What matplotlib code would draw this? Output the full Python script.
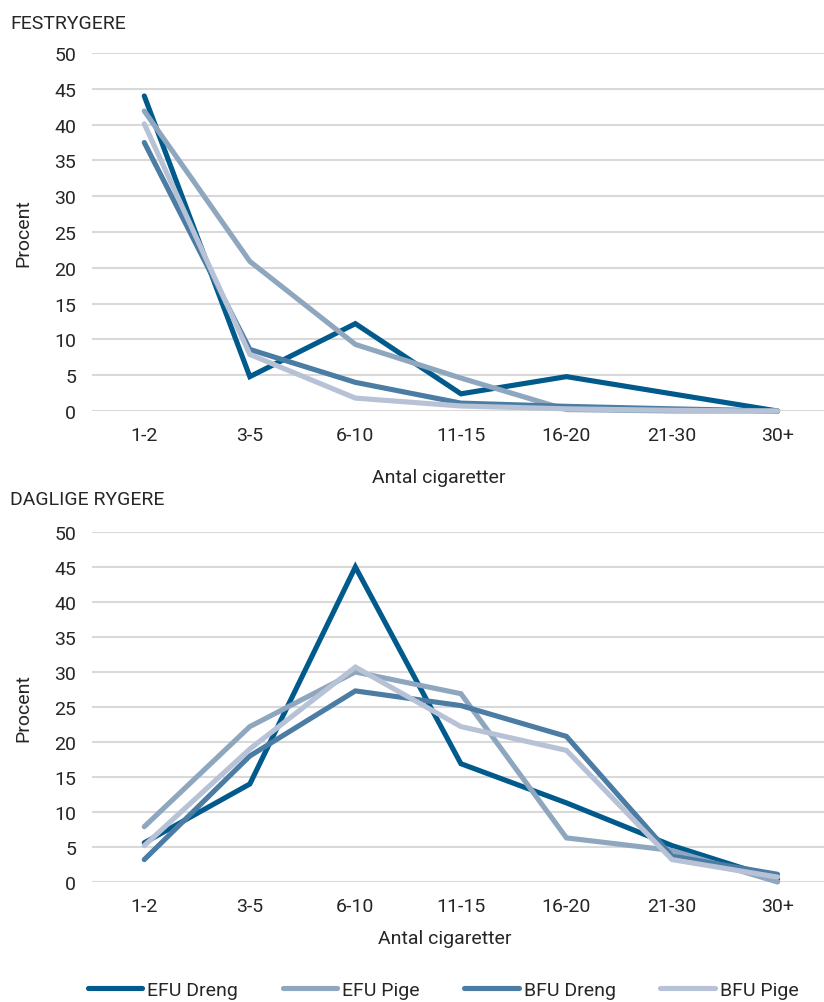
import matplotlib
matplotlib.use("Agg")
import matplotlib.pyplot as plt

plt.rcParams["font.family"] = ["Roboto", "DejaVu Sans"]

categories = ["1-2", "3-5", "6-10", "11-15", "16-20", "21-30", "30+"]
series_names = ["EFU Dreng", "EFU Pige", "BFU Dreng", "BFU Pige"]
colors = ["#005a8b", "#8ea7bf", "#4b7ca4", "#b7c2d6"]

# Festrygere
fest_efu_dreng = [44.0, 4.8, 12.2, 2.4, 4.8, 2.4, 0.0]
fest_efu_pige = [41.9, 20.9, 9.3, 4.6, 0.2, 0.0, 0.0]
fest_bfu_dreng = [37.5, 8.6, 4.0, 1.1, 0.65, 0.3, 0.0]
fest_bfu_pige = [40.1, 7.9, 1.8, 0.7, 0.3, 0.1, 0.0]

# Daglige rygere
dag_efu_dreng = [5.6, 14.0, 45.0, 16.9, 11.3, 5.2, 0.4]
dag_efu_pige = [7.9, 22.2, 30.0, 26.9, 6.3, 4.5, 0.0]
dag_bfu_dreng = [3.2, 18.0, 27.3, 25.2, 20.8, 3.7, 1.1]
dag_bfu_pige = [5.2, 19.0, 30.7, 22.2, 18.8, 3.2, 0.7]

W, H = 824, 1003
fig = plt.figure(figsize=(W / 100, H / 100), dpi=100)

FS = 14
TXT = "#262626"


def make_axes(top_px, bottom_px):
    left = 91.5
    right = 824
    return fig.add_axes([left / W, 1 - bottom_px / H, (right - left) / W,
                         (bottom_px - top_px) / H])


def draw_panel(ax, data):
    x = range(len(categories))
    for vals, name, c in zip(data, series_names, colors):
        ax.plot(x, vals, color=c, lw=3.7, label=name,
                solid_capstyle="round", solid_joinstyle="miter", zorder=3)
    ax.set_ylim(0, 50)
    ax.set_yticks(range(0, 51, 5))
    ax.set_xlim(-0.5, 6.44)
    ax.set_xticks(list(x))
    ax.set_xticklabels(categories)
    ax.grid(axis="y", color="#d9d9d9", lw=1.5, zorder=0)
    for s in ax.spines.values():
        s.set_visible(False)
    ax.tick_params(axis="both", length=0, labelsize=FS, labelcolor=TXT)
    ax.tick_params(axis="y", pad=11)
    ax.tick_params(axis="x", pad=11)
    ax.set_ylabel("Procent", fontsize=FS, color=TXT, labelpad=16)
    for line in ax.lines:
        line.set_clip_on(False)


ax1 = make_axes(54, 412)
draw_panel(ax1, [fest_efu_dreng, fest_efu_pige, fest_bfu_dreng, fest_bfu_pige])
ax2 = make_axes(533, 883)
draw_panel(ax2, [dag_efu_dreng, dag_efu_pige, dag_bfu_dreng, dag_bfu_pige])

fig.text(10 / W, 1 - 24 / H, "FESTRYGERE", fontsize=FS, color=TXT, va="center")
fig.text(10 / W, 1 - 500 / H, "DAGLIGE RYGERE", fontsize=FS, color=TXT, va="center")
fig.text(439 / W, 1 - 478 / H, "Antal cigaretter", fontsize=FS, color=TXT,
         ha="center", va="center")
fig.text(445 / W, 1 - 939 / H, "Antal cigaretter", fontsize=FS, color=TXT,
         ha="center", va="center")

handles, labels = ax1.get_legend_handles_labels()
leg = fig.legend(handles, labels, loc="center", bbox_to_anchor=(443 / W, 1 - 991 / H),
                 ncol=4, frameon=False, fontsize=FS, handlelength=2.8,
                 handletextpad=0.25, columnspacing=2.3, labelcolor=TXT)

plt.savefig("out.png", dpi=100)
plt.close()
